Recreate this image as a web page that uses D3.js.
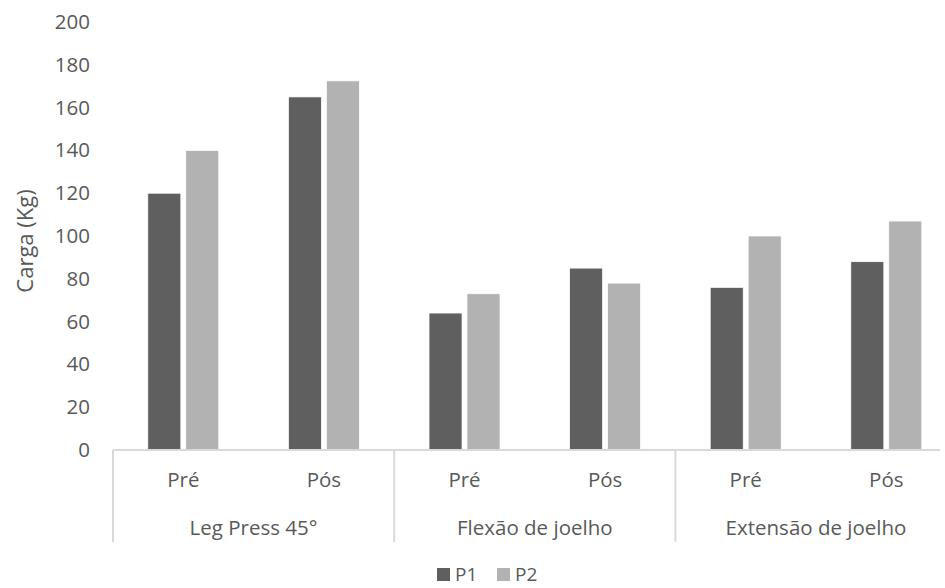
<!DOCTYPE html>
<html>
<head>
<meta charset="utf-8">
<script src="https://cdn.jsdelivr.net/npm/d3@7"></script>
<style>
  html, body { margin: 0; padding: 0; background: #fff; }
  svg { display: block; font-family: "Open Sans", sans-serif; }
</style>
</head>
<body>
<svg id="chart" width="945" height="588"></svg>
<script>
const groups = ["Leg Press 45°", "Flexão de joelho", "Extensão de joelho"];
const phases = ["Pré", "Pós"];
const seriesNames = ["P1", "P2"];
const p1Values = [120, 165, 64, 85, 76, 88];
const p2Values = [140, 172.5, 73, 78, 100, 107];
const yTicks = [0, 20, 40, 60, 80, 100, 120, 140, 160, 180, 200];
const colors = ["#5f5f5f", "#b2b2b2"];

(function () {
const svg = d3.select("#chart");
const textColor = "#595959";
const fontSize = 20.5;

const plotLeft = 113, plotRight = 956.6, plotTop = 22, plotBottom = 450;

const slots = [];
groups.forEach(g => phases.forEach(p => slots.push(g + "|" + p)));

const x = d3.scaleBand().domain(slots).range([plotLeft, plotRight]).paddingInner(0).paddingOuter(0);
const xGroup = d3.scaleBand().domain(groups).range([plotLeft, plotRight]);
const xSub = d3.scaleBand().domain(seriesNames).range([0, 71]).paddingInner(0.13);
const y = d3.scaleLinear().domain([0, 200]).range([plotBottom, plotTop]);

const data = slots.map((s, i) => ({ slot: s, values: [p1Values[i], p2Values[i]] }));

// bars
const slotG = svg.append("g").selectAll("g").data(data).join("g")
  .attr("transform", d => `translate(${x(d.slot) + (x.bandwidth() - 71) / 2},0)`);
slotG.selectAll("rect").data(d => d.values.map((v, k) => ({ v, k })))
  .join("rect")
  .attr("x", d => xSub(seriesNames[d.k]))
  .attr("width", xSub.bandwidth())
  .attr("y", d => y(d.v))
  .attr("height", d => y(0) - y(d.v))
  .attr("fill", d => colors[d.k])
  .attr("stroke", "#ffffff")
  .attr("stroke-width", 0.75);

// y axis labels
const yAxis = d3.axisLeft(y).tickValues(yTicks).tickSize(0).tickPadding(0);
const yg = svg.append("g").attr("transform", `translate(90,0)`).call(yAxis);
yg.select(".domain").remove();
yg.selectAll("text").attr("fill", textColor).attr("font-size", fontSize)
  .attr("font-family", "'Open Sans', sans-serif");

// x axis line
svg.append("line").attr("x1", plotLeft).attr("x2", 940).attr("y1", plotBottom).attr("y2", plotBottom)
  .attr("stroke", "#d9d9d9").attr("stroke-width", 2);

// group dividers
svg.append("g").selectAll("line").data(groups).join("line")
  .attr("x1", d => xGroup(d)).attr("x2", d => xGroup(d))
  .attr("y1", plotBottom).attr("y2", 542)
  .attr("stroke", "#d9d9d9").attr("stroke-width", 2);

// phase labels
svg.append("g").selectAll("text").data(slots).join("text")
  .attr("x", d => x(d) + x.bandwidth() / 2)
  .attr("y", 480)
  .attr("dy", "0.35em")
  .attr("text-anchor", "middle")
  .attr("fill", textColor).attr("font-size", fontSize)
  .text(d => d.split("|")[1]);

// group labels
svg.append("g").selectAll("text").data(groups).join("text")
  .attr("x", d => xGroup(d) + xGroup.bandwidth() / 2)
  .attr("y", 528)
  .attr("dy", "0.35em")
  .attr("text-anchor", "middle")
  .attr("fill", textColor).attr("font-size", fontSize)
  .text(d => d);

// y title
svg.append("text")
  .attr("transform", "translate(25,241) rotate(-90)")
  .attr("text-anchor", "middle")
  .attr("dy", "0.35em")
  .attr("fill", textColor).attr("font-size", 22)
  .text("Carga (Kg)");

// legend
const legendItems = [
  { name: seriesNames[0], color: colors[0], x: 437 },
  { name: seriesNames[1], color: colors[1], x: 497 }
];
const lg = svg.append("g").selectAll("g").data(legendItems).join("g")
  .attr("transform", d => `translate(${d.x},568)`);
lg.append("rect").attr("width", 13).attr("height", 13).attr("fill", d => d.color);
lg.append("text").attr("x", 18).attr("y", 6.5).attr("dy", "0.35em")
  .attr("fill", textColor).attr("font-size", 19).text(d => d.name);
})();
</script>
</body>
</html>
